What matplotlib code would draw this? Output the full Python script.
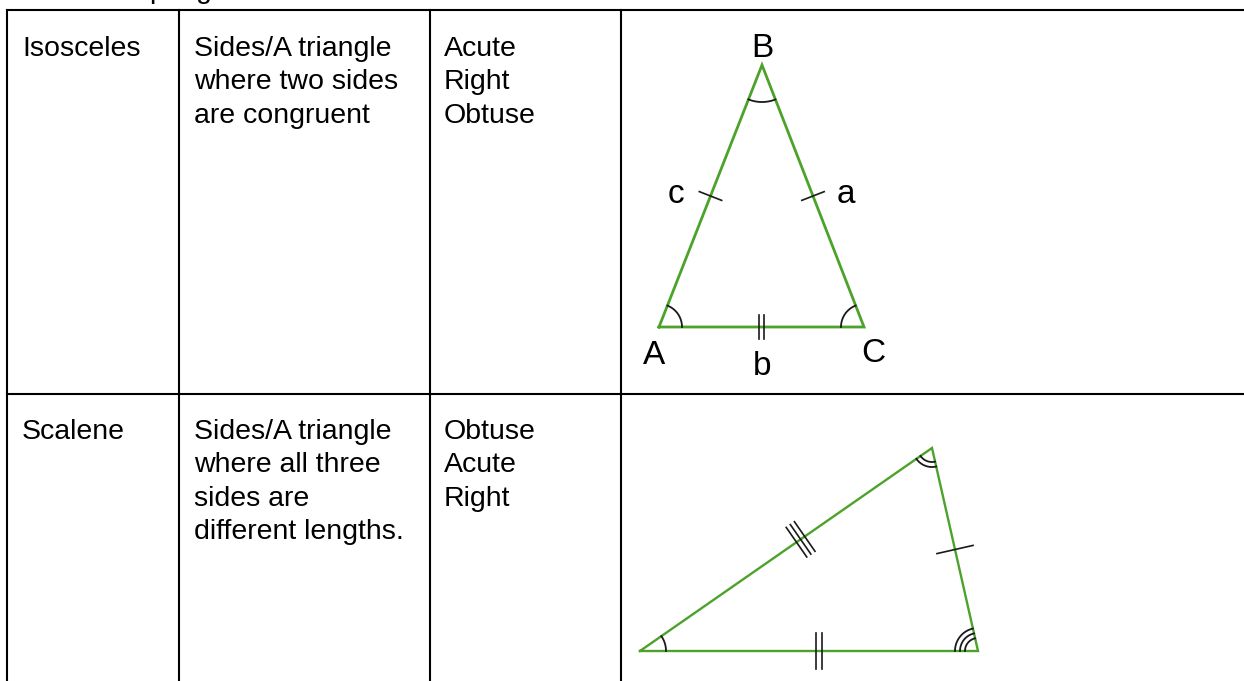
import numpy as np
import matplotlib
matplotlib.use("Agg")
import matplotlib.pyplot as plt

plt.rcParams['font.family'] = ['Liberation Sans', 'DejaVu Sans']

# ---------------------------------------------------------------- data
col_edges = [7, 179, 430, 621, 1244]
row_edges = [10, 394, 681]

row1_cells = [["Isosceles"],
              ["Sides/A triangle", "where two sides", "are congruent"],
              ["Acute", "Right", "Obtuse"]]
row2_cells = [["Scalene"],
              ["Sides/A triangle", "where all three", "sides are", "different lengths."],
              ["Obtuse", "Acute", "Right"]]

# isosceles triangle vertices A, B, C (pixel coords)
iso_pts = {"A": (659, 327), "B": (762, 65), "C": (864, 327)}
# label baselines
iso_labels = {"A": (654, 364), "B": (762, 57), "C": (873, 362),
              "c": (676, 203), "a": (846, 203), "b": (762, 375)}

# scalene triangle vertices: left, top, right
sca_pts = [(640, 651), (932, 448), (978, 651)]

GREEN = "#4ca22b"

# ---------------------------------------------------------------- helpers
def draw_arcs(ax, v, p1, p2, radii):
    v = np.array(v, float)
    a1 = np.arctan2(p1[1] - v[1], p1[0] - v[0])
    a2 = np.arctan2(p2[1] - v[1], p2[0] - v[0])
    d = (a2 - a1 + np.pi) % (2 * np.pi) - np.pi
    t = np.linspace(a1, a1 + d, 40)
    for r in radii:
        ax.plot(v[0] + r * np.cos(t), v[1] + r * np.sin(t), color="#1a1a1a", lw=1.3)


def draw_ticks(ax, p, q, n, length, gap, frac=0.5):
    p = np.array(p, float)
    q = np.array(q, float)
    u = (q - p) / np.linalg.norm(q - p)
    nrm = np.array([-u[1], u[0]])
    m = p + frac * (q - p)
    offs = (np.arange(n) - (n - 1) / 2) * gap
    for o in offs:
        c = m + o * u
        a = c - nrm * length / 2
        b = c + nrm * length / 2
        ax.plot([a[0], b[0]], [a[1], b[1]], color="#1a1a1a", lw=1.2)


# ---------------------------------------------------------------- figure
fig = plt.figure(figsize=(12.44, 6.81), dpi=100)
ax = fig.add_axes([0, 0, 1, 1])
ax.set_xlim(0, 1244)
ax.set_ylim(681, 0)
ax.axis("off")

# cut-off text above table (only descenders visible in the reference)
ax.text(149, -2, "p", fontsize=20.5, va="baseline", ha="left")
ax.text(196, -2, "g", fontsize=20.5, va="baseline", ha="left")

# table grid
ax.plot([col_edges[0], col_edges[-1]], [row_edges[0], row_edges[0]], color="black", lw=1.5)
ax.plot([col_edges[0], col_edges[-1]], [row_edges[1], row_edges[1]], color="black", lw=1.5)
for x in col_edges[:-1]:
    ax.plot([x, x], [row_edges[0], row_edges[-1]], color="black", lw=1.5)

text_x = [22, 194, 444]
for base_y, cells in [(56, row1_cells), (439, row2_cells)]:
    for x, lines in zip(text_x, cells):
        for i, line in enumerate(lines):
            ax.text(x, base_y + i * 33.3, line, fontsize=20.5, va="baseline", ha="left")

# isosceles triangle
A, B, C = iso_pts["A"], iso_pts["B"], iso_pts["C"]
xs = [A[0], B[0], C[0], A[0]]
ys = [A[1], B[1], C[1], A[1]]
ax.plot(xs, ys, color=GREEN, lw=2.0, solid_joinstyle="miter")
draw_arcs(ax, B, A, C, [37])
draw_arcs(ax, A, B, C, [23])
draw_arcs(ax, C, A, B, [23])
draw_ticks(ax, A, B, 1, 24, 0)
draw_ticks(ax, B, C, 1, 24, 0)
draw_ticks(ax, A, C, 2, 24, 4.5)
for k, (lx, ly) in iso_labels.items():
    ax.text(lx, ly, k, fontsize=24, ha="center", va="baseline")

# scalene triangle
P, Q, R = sca_pts
ax.plot([P[0], Q[0], R[0], P[0]], [P[1], Q[1], R[1], P[1]],
        color=GREEN, lw=1.7, solid_joinstyle="miter")
draw_arcs(ax, P, Q, R, [26])
draw_arcs(ax, Q, P, R, [14, 19])
draw_arcs(ax, R, P, Q, [13, 18, 23])
draw_ticks(ax, P, Q, 3, 36, 5, frac=0.55)
draw_ticks(ax, Q, R, 1, 37, 0)
draw_ticks(ax, P, R, 2, 36, 6.5, frac=0.53)

fig.savefig("out.png", dpi=100)
